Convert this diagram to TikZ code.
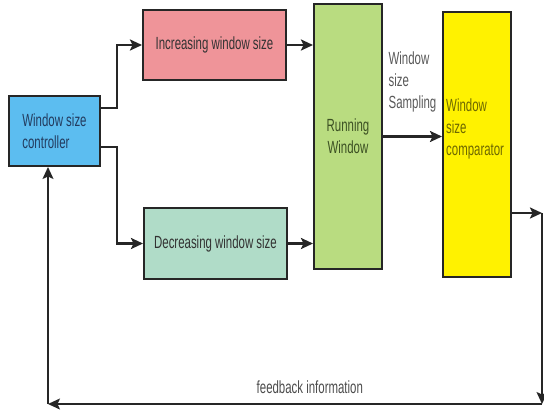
\documentclass[tikz,border=0pt]{standalone}
\usepackage{fontspec}
\setmainfont[FakeStretch=0.65]{Liberation Sans}
\usetikzlibrary{arrows.meta}
\definecolor{ctrlblue}{RGB}{92,189,240}
\definecolor{incpink}{RGB}{239,148,153}
\definecolor{decmint}{RGB}{176,220,200}
\definecolor{rungreen}{RGB}{185,220,128}
\definecolor{cmpyellow}{RGB}{255,242,0}
\definecolor{cmptext}{RGB}{110,104,0}
\definecolor{ctrltext}{RGB}{35,60,95}
\definecolor{runtext}{RGB}{60,80,35}
\begin{document}
\begin{tikzpicture}[x=1pt,y=-1pt,line join=miter,>={Stealth[length=12pt,width=11pt,inset=2.5pt]}]
	\tikzset{every node/.style={font=\fontsize{17.6}{22}\selectfont},
		blockbox/.style={draw=black!85,line width=2pt,text=black!80,inner sep=0pt},
		flow/.style={->,line width=2.3pt,black!85},
		backflow/.style={->,line width=1.5pt,black!85}}
	\useasboundingbox (0,0) rectangle (544,413);
	\node[blockbox,fill=ctrlblue,minimum width=91pt,minimum height=70pt,align=left,text=ctrltext] (ctrl) at (54.5,131) {Window size\\controller};
	\node[blockbox,fill=incpink,minimum width=143pt,minimum height=70pt] (inc) at (214.5,45) {Increasing window size};
	\node[blockbox,fill=decmint,minimum width=143pt,minimum height=71pt] (dec) at (215.5,243.5) {Decreasing window size};
	\node[blockbox,fill=rungreen,minimum width=68pt,minimum height=265pt,align=center,text=runtext] (run) at (348,136.5) {Running\\Window};
	\node[blockbox,fill=cmpyellow,minimum width=68pt,minimum height=265pt,
		label={[anchor=north west,align=left,text=cmptext,inner sep=0pt,xshift=4pt,yshift=-88pt]north west:Window\\size\\comparator}] (cmp) at (477,144.5) {};
	\coordinate (fbr) at (542,213);
	\coordinate (fbbr) at (542,404);
	\coordinate (fbl) at (48,404);
	\draw[flow] ([yshift=23pt]ctrl.east) -- ++(16,0) |- (inc.west);
	\draw[flow] ([yshift=-16pt]ctrl.east) -- ++(16,0) |- (dec.west);
	\draw[flow] (inc.east) -- (inc.east -| run.west);
	\draw[flow] (dec.east) -- (dec.east -| run.west);
	\draw[flow] (run.east) -- (run.east -| cmp.west) node[midway,above=20pt,align=left,text=black!65] {Window\\size\\Sampling};
	\draw[flow] (cmp.east |- fbr) -- (fbr);
	\draw[backflow] (fbr) -- (fbbr);
	\draw[backflow] (fbbr) -- (fbl) node[pos=0.47,above=6pt,text=black!70] {feedback information};
	\draw[backflow] (fbl) -- (fbl |- ctrl.south);
\end{tikzpicture}
\end{document}
